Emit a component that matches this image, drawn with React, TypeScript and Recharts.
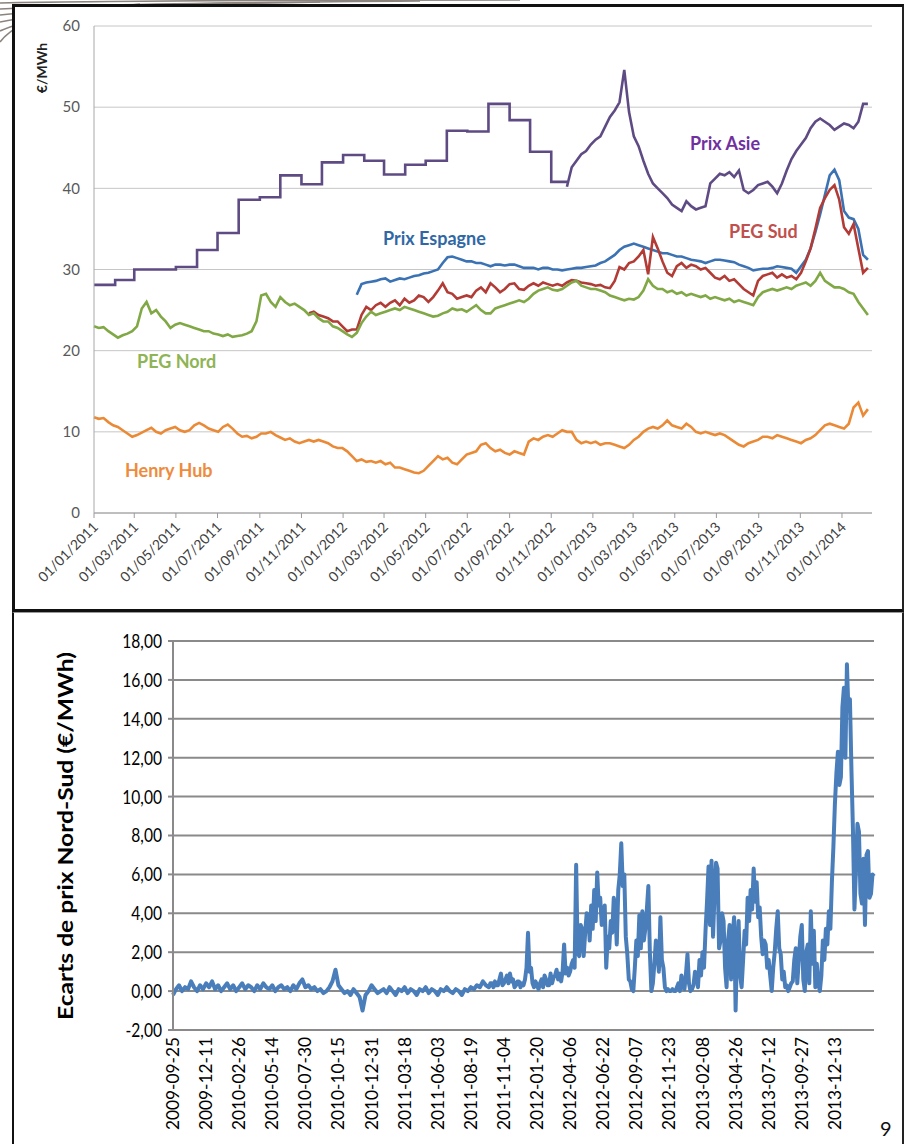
import React from 'react';
import { LineChart, Line, XAxis, YAxis, CartesianGrid } from 'recharts';

const DAY = 86400000;
const FONT = 'Lato, "Open Sans", sans-serif';

// ---------- top chart: gas prices in €/MWh, weekly readings from 01/01/2011
const topTicks = [
  '01/01/2011', '01/03/2011', '01/05/2011', '01/07/2011', '01/09/2011', '01/11/2011',
  '01/01/2012', '01/03/2012', '01/05/2012', '01/07/2012', '01/09/2012', '01/11/2012',
  '01/01/2013', '01/03/2013', '01/05/2013', '01/07/2013', '01/09/2013', '01/11/2013',
  '01/01/2014',
];
const yTicksTop = [0, 10, 20, 30, 40, 50, 60];

// Asian price was quoted monthly until late 2012 (step line)
const asieMonths = [
  '01/01/2011', '01/02/2011', '01/03/2011', '01/04/2011', '01/05/2011', '01/06/2011',
  '01/07/2011', '01/08/2011', '01/09/2011', '01/10/2011', '01/11/2011', '01/12/2011',
  '01/01/2012', '01/02/2012', '01/03/2012', '01/04/2012', '01/05/2012', '01/06/2012',
  '01/07/2012', '01/08/2012', '01/09/2012', '01/10/2012', '01/11/2012', '25/11/2012',
];
const asieStep = [
  28.1, 28.7, 30.0, 30.0, 30.3, 32.4, 34.5, 38.6, 38.9, 41.6, 40.5, 43.2,
  44.1, 43.4, 41.7, 42.9, 43.4, 47.1, 47.0, 50.4, 48.4, 44.5, 40.8, 40.8,
];

const pegNord = [
  23.0, 22.8, 22.9, 22.4, 22.0, 21.6, 21.9, 22.1, 22.4, 23.0,
  25.2, 26.0, 24.6, 25.0, 24.2, 23.6, 22.8, 23.2, 23.4, 23.2,
  23.0, 22.8, 22.6, 22.4, 22.4, 22.1, 22.0, 21.8, 22.0, 21.7,
  21.8, 21.9, 22.1, 22.4, 23.6, 26.8, 27.0, 26.0, 25.4, 26.6,
  26.0, 25.6, 25.8, 25.4, 25.0, 24.4, 24.6, 24.0, 23.6, 23.6,
  23.0, 22.8, 22.4, 22.0, 21.7, 22.2, 23.4, 24.2, 24.8, 24.4,
  24.6, 24.8, 25.0, 25.2, 25.0, 25.4, 25.2, 25.0, 24.8, 24.6,
  24.4, 24.2, 24.3, 24.6, 24.8, 25.2, 25.0, 25.1, 24.8, 25.2,
  25.6, 25.0, 24.6, 24.6, 25.2, 25.4, 25.6, 25.8, 26.0, 26.2,
  26.0, 26.4, 27.0, 27.4, 27.6, 27.8, 27.5, 27.4, 27.6, 28.0,
  28.4, 28.6, 28.0, 27.8, 27.6, 27.6, 27.4, 27.2, 26.8, 26.6,
  26.4, 26.2, 26.4, 26.3, 26.6, 27.4, 28.8, 28.0, 27.6, 27.6,
  27.2, 27.4, 27.0, 27.2, 26.8, 27.0, 26.8, 26.6, 26.8, 26.4,
  26.6, 26.4, 26.2, 26.4, 26.0, 26.2, 26.0, 25.8, 25.6, 26.6,
  27.2, 27.4, 27.6, 27.4, 27.6, 27.8, 27.6, 28.0, 28.2, 28.4,
  28.0, 28.6, 29.6, 28.6, 28.2, 27.8, 27.8, 27.6, 27.2, 27.0,
  26.0, 25.2, 24.4,
];

const henryHub = [
  11.8, 11.6, 11.7, 11.2, 10.8, 10.6, 10.2, 9.8, 9.4, 9.6,
  9.9, 10.2, 10.5, 10.0, 9.8, 10.2, 10.4, 10.6, 10.2, 10.0,
  10.2, 10.8, 11.1, 10.8, 10.4, 10.2, 10.0, 10.6, 10.9, 10.4,
  9.8, 9.4, 9.5, 9.2, 9.4, 9.8, 9.8, 10.0, 9.6, 9.3,
  9.0, 9.2, 8.8, 8.6, 8.8, 9.0, 8.8, 9.0, 8.8, 8.6,
  8.2, 8.0, 8.0, 7.6, 7.0, 6.4, 6.6, 6.3, 6.4, 6.2,
  6.4, 6.0, 6.2, 5.6, 5.6, 5.4, 5.2, 5.0, 4.9, 5.2,
  5.8, 6.4, 7.0, 6.6, 6.8, 6.2, 6.0, 6.6, 7.2, 7.4,
  7.6, 8.4, 8.6, 8.0, 7.6, 7.8, 7.4, 7.2, 7.6, 7.4,
  7.2, 8.8, 9.2, 9.0, 9.4, 9.6, 9.4, 9.8, 10.2, 10.0,
  10.0, 9.0, 8.6, 8.8, 8.6, 8.8, 8.4, 8.6, 8.6, 8.4,
  8.2, 8.0, 8.4, 9.0, 9.4, 10.0, 10.4, 10.6, 10.4, 10.8,
  11.4, 10.8, 10.6, 10.4, 11.0, 10.6, 10.0, 9.8, 10.0, 9.8,
  9.6, 9.8, 9.6, 9.2, 8.8, 8.4, 8.2, 8.6, 8.8, 9.0,
  9.4, 9.4, 9.2, 9.6, 9.4, 9.2, 9.0, 8.8, 8.6, 9.0,
  9.2, 9.6, 10.2, 10.8, 11.0, 10.8, 10.6, 10.4, 11.0, 13.0,
  13.6, 12.0, 12.8,
];

// starts at week 45
const pegSud = [
  24.6, 24.8, 24.4, 24.2, 24.0,
  23.6, 23.6, 23.0, 22.4, 22.6, 22.6, 24.4, 25.4, 25.0, 25.6,
  25.9, 25.4, 25.9, 26.2, 25.6, 26.4, 25.9, 26.2, 26.8, 26.6,
  26.0, 26.6, 27.4, 28.3, 27.2, 27.0, 26.4, 26.6, 26.8, 26.6,
  27.4, 27.8, 27.2, 28.3, 27.8, 27.2, 27.6, 28.2, 28.3, 27.6,
  27.5, 28.0, 28.3, 28.0, 28.4, 28.2, 28.0, 28.2, 28.0, 28.4,
  28.7, 28.6, 28.4, 28.3, 28.2, 28.0, 28.1, 27.8, 27.7, 28.6,
  30.3, 30.0, 30.8, 31.0, 31.6, 32.4, 29.4, 34.0, 32.6, 31.0,
  29.6, 29.2, 30.4, 30.8, 30.2, 30.6, 30.4, 30.0, 30.2, 29.6,
  29.0, 28.8, 29.2, 28.6, 28.8, 28.2, 27.6, 27.2, 26.8, 28.6,
  29.2, 29.4, 29.6, 29.0, 29.4, 29.0, 29.2, 28.8, 29.6, 31.0,
  32.6, 35.0, 37.6, 38.8, 39.8, 40.4, 38.6, 35.2, 34.4, 35.6,
  32.6, 29.6, 30.2,
];

// starts at week 55
const prixEspagne = [
  26.9, 28.2, 28.4, 28.5, 28.6,
  28.8, 28.9, 28.5, 28.7, 28.9, 28.8, 29.0, 29.2, 29.3, 29.5,
  29.6, 29.8, 30.0, 30.8, 31.5, 31.6, 31.4, 31.2, 31.0, 31.0,
  30.8, 30.8, 30.6, 30.4, 30.6, 30.6, 30.5, 30.6, 30.6, 30.4,
  30.2, 30.2, 30.2, 30.0, 30.2, 30.2, 30.0, 30.0, 29.9, 30.0,
  30.1, 30.2, 30.2, 30.3, 30.4, 30.5, 30.8, 31.0, 31.4, 31.8,
  32.4, 32.8, 33.0, 33.2, 33.0, 32.8, 32.6, 32.4, 32.2, 32.0,
  32.0, 31.8, 31.6, 31.6, 31.4, 31.2, 31.1, 31.0, 30.8, 31.0,
  31.2, 31.2, 31.1, 31.0, 30.9, 30.6, 30.4, 30.2, 29.9, 30.0,
  30.1, 30.1, 30.2, 30.4, 30.3, 30.2, 30.1, 29.6, 30.4, 31.2,
  32.6, 34.6, 36.8, 39.2, 41.6, 42.3, 41.0, 37.2, 36.4, 36.2,
  35.0, 31.8, 31.2,
];

// spot Asian price, starts at week 99
const prixAsie = [
  40.2,
  42.6, 43.4, 44.2, 44.6, 45.4, 46.0, 46.4, 47.6, 48.8, 49.6,
  50.6, 54.6, 49.4, 46.4, 45.2, 43.4, 41.8, 40.6, 40.0, 39.4,
  38.8, 38.0, 37.6, 37.2, 38.4, 37.8, 37.4, 37.6, 37.8, 40.6,
  41.2, 41.8, 41.6, 42.0, 41.4, 42.2, 39.8, 39.4, 39.8, 40.4,
  40.6, 40.8, 40.2, 39.4, 40.6, 42.2, 43.6, 44.6, 45.4, 46.2,
  47.4, 48.2, 48.6, 48.2, 47.8, 47.2, 47.6, 48.0, 47.8, 47.4,
  48.2, 50.4, 50.4,
];

// ---------- bottom chart: North-South spread (€/MWh) from 2009-09-25
const spreadTicks = [
  '2009-09-25', '2009-12-11', '2010-02-26', '2010-05-14', '2010-07-30', '2010-10-15',
  '2010-12-31', '2011-03-18', '2011-06-03', '2011-08-19', '2011-11-04', '2012-01-20',
  '2012-04-06', '2012-06-22', '2012-09-07', '2012-11-23', '2013-02-08', '2013-04-26',
  '2013-07-12', '2013-09-27', '2013-12-13',
];
const yTicksSpread = [-2, 0, 2, 4, 6, 8, 10, 12, 14, 16, 18];

// weekly readings, weeks 0..104
const spreadWeekly = [
  -0.2, 0.1, 0.3, 0.0, 0.2, 0.1, 0.5, 0.2, 0.0, 0.3,
  0.1, 0.4, 0.2, 0.5, 0.1, 0.3, 0.0, 0.2, 0.4, 0.1,
  0.3, 0.0, 0.2, 0.4, 0.1, 0.3, 0.2, 0.0, 0.3, 0.1,
  0.4, 0.2, 0.1, 0.3, 0.0, 0.2, 0.3, 0.1, 0.2, 0.0,
  0.3, 0.1, 0.4, 0.6, 0.2, 0.3, 0.1, 0.2, 0.0, 0.1,
  -0.1, 0.0, 0.2, 0.5, 1.1, 0.3, 0.1, -0.1, 0.0, -0.2,
  0.1, -0.1, -0.3, -1.0, -0.2, 0.0, 0.3, 0.1, -0.1, 0.0,
  0.1, -0.1, 0.2, 0.0, -0.2, 0.1, 0.0, 0.2, -0.1, 0.1,
  0.0, -0.2, 0.1, 0.0, 0.2, -0.1, 0.1, 0.0, -0.2, 0.1,
  0.0, 0.2, 0.0, -0.1, 0.1, 0.0, -0.2, 0.1, 0.0, 0.2,
  0.1, 0.3, 0.2, 0.5, 0.3,
];
// twice-weekly readings from week 105 (volatile period) to week 233
const spreadHalfWeekly = [
  0.2, 0.4, 0.4, 0.2, 0.5, 0.3, 0.3, 0.6, 0.9, 0.3,
  0.4, 0.6, 0.8, 0.4, 0.9, 0.5, 0.6, 0.2, 0.3, 0.5,
  0.5, 0.2, 0.4, 0.3, 0.6, 1.2, 3.0, 1.0, 1.2, 0.4,
  0.2, 0.5, 0.3, 0.1, 0.4, 0.6, 0.2, 0.8, 0.6, 0.3,
  0.3, 0.9, 0.4, 0.7, 0.8, 1.1, 0.6, 0.9, 0.5, 1.0,
  2.4, 0.9, 1.2, 0.8, 1.0, 1.4, 1.6, 1.2, 6.5, 2.0,
  1.8, 3.4, 3.2, 1.8, 3.0, 4.0, 3.9, 2.6, 4.4, 3.2,
  5.2, 3.6, 6.1, 4.4, 4.8, 3.4, 3.8, 4.4, 1.2, 2.8,
  2.2, 3.6, 3.0, 4.8, 4.3, 2.4, 5.2, 6.0, 7.6, 5.4,
  6.0, 2.8, 1.9, 0.6, 0.5, 0.1, 0.0, 1.2, 2.6, 1.8,
  3.9, 2.2, 4.1, 2.6, 3.2, 4.2, 5.4, 2.0, 0.0, 0.4,
  1.4, 2.6, 2.0, 1.0, 3.8, 1.6, 1.2, 0.2, 0.0, 0.1,
  0.0, 0.0, 0.1, 0.0, 0.0, 0.2, 0.4, 0.0, 0.8, 0.2,
  0.1, 0.9, 1.9, 0.4, 0.0, 0.1, 0.3, 1.0, 0.9, 0.2,
  1.6, 0.8, 2.0, 1.2, 3.1, 4.6, 6.4, 3.4, 6.7, 2.8,
  5.0, 6.6, 6.3, 2.2, 2.6, 4.0, 3.6, 1.2, 0.2, 2.6,
  3.4, 0.6, 2.8, 3.8, -1.0, 2.2, 3.6, 0.8, 0.2, 1.6,
  3.1, 2.4, 4.8, 3.6, 5.2, 4.2, 6.3, 4.6, 5.6, 3.8,
  4.3, 2.8, 1.9, 2.6, 2.4, 1.2, 1.6, 0.8, 0.0, 1.2,
  2.0, 3.2, 4.1, 2.2, 1.9, 0.6, 1.0, 0.2, 0.3, 0.0,
  0.2, 0.4, 0.5, 1.6, 2.2, 0.4, 1.6, 2.8, 3.4, 0.6,
  0.0, 2.0, 2.4, 0.4, 4.1, 1.4, 3.1, 0.2, 1.4, 0.4,
  0.0, 0.8, 2.6, 1.6, 3.2, 2.4, 4.1, 3.2, 5.6, 7.4,
  9.6, 11.2, 12.3, 10.6, 11.0, 14.6, 15.6, 12.0, 16.8, 14.4,
  15.0, 11.4, 8.3, 4.2, 6.2, 8.6, 8.2, 5.0, 4.5, 6.8,
  3.4, 7.0, 7.2, 4.8, 5.0, 6.0, 5.9,
];

// ---------- build rows
const T0 = Date.UTC(2011, 0, 1);
const dayOf = (s: string) => {
  const [d, m, y] = s.split('/').map(Number);
  return (Date.UTC(y, m - 1, d) - T0) / DAY;
};
const weekly = (vals: number[], first: number) => vals.map((v, i) => ({ d: (first + i) * 7, v }));

const nordData = weekly(pegNord, 0);
const henryData = weekly(henryHub, 0);
const sudData = weekly(pegSud, 45);
const espData = weekly(prixEspagne, 55);
const asieData = weekly(prixAsie, 99);
const asieStepData = asieMonths.map((s, i) => ({ d: dayOf(s), v: asieStep[i] }));
const topTickDays = topTicks.map(dayOf);

// spread rows, x = weeks since 2009-09-25
const S0 = Date.UTC(2009, 8, 25);
const spreadTickWeeks = spreadTicks.map((s) => (Date.parse(s) - S0) / (7 * DAY));
const spreadData = [
  ...spreadWeekly.map((v, i) => ({ t: i, v })),
  ...spreadHalfWeekly.map((v, j) => ({ t: spreadWeekly.length + j / 2, v })),
];

// ---------- ticks
const DateTick = (p: any) => {
  const idx = topTickDays.indexOf(p.payload.value);
  return (
    <text
      x={0}
      y={0}
      transform={`translate(${p.x + 5},${p.y + 8}) rotate(-45)`}
      textAnchor="end"
      fontFamily={FONT}
      fontSize={14}
      fill="#404040"
    >
      {topTicks[idx]}
    </text>
  );
};

const SpreadXTick = (p: any) => {
  const idx = spreadTickWeeks.indexOf(p.payload.value);
  return (
    <text
      x={0}
      y={0}
      transform={`translate(${p.x + 6},${p.y - 1}) rotate(-90)`}
      textAnchor="end"
      fontFamily={FONT}
      fontSize={17}
      fill="#000"
      textLength={93}
      lengthAdjust="spacingAndGlyphs"
    >
      {spreadTicks[idx]}
    </text>
  );
};

const SpreadYTick = (p: any) => (
  <text
    x={p.x}
    y={p.y}
    dy={7}
    textAnchor="end"
    fontFamily={FONT}
    fontSize={20}
    fill="#000"
    transform={`translate(${p.x} 0) scale(0.78 1) translate(${-p.x} 0)`}
  >
    {p.payload.value.toFixed(2).replace('.', ',')}
  </text>
);

const seriesLabel = (x: number, y: number, text: string, color: string) => (
  <text x={x} y={y} fill={color} fontFamily={FONT} fontWeight={700} fontSize={18}>
    {text}
  </text>
);

export default function App() {
  return (
    <div
      style={{
        position: 'absolute',
        left: 0,
        top: 0,
        width: 904,
        height: 1144,
        overflow: 'hidden',
        background: '#fff',
        fontFamily: FONT,
      }}
    >
      {/* slide decoration, top-left */}
      <svg style={{ position: 'absolute', left: 0, top: 0 }} width={904} height={80}>
        <g fill="none" stroke="#776e68" strokeWidth={1.6} opacity={0.85}>
          <path d="M0,3 Q150,0 520,0" />
          <path d="M0,9 Q120,3 420,1" />
          <path d="M0,15 Q90,6 320,2" />
          <path d="M0,22 Q60,10 230,3" />
          <path d="M0,31 Q35,15 140,4" />
          <path d="M0,42 Q15,22 70,5" />
        </g>
      </svg>

      {/* panel frames */}
      <div
        style={{
          position: 'absolute',
          left: 12,
          top: 4,
          width: 892,
          height: 608,
          boxSizing: 'border-box',
          borderLeft: '3px solid #111',
          borderTop: '3px solid #111',
          borderRight: '2px solid #222',
          borderBottom: '3px solid #111',
          background: '#fff',
        }}
      />
      <div
        style={{
          position: 'absolute',
          left: 12,
          top: 612,
          width: 892,
          height: 540,
          boxSizing: 'border-box',
          borderLeft: '2px solid #111',
          borderRight: '2px solid #222',
          borderTop: '1px solid #9a9a9a',
          background: '#fff',
        }}
      />

      {/* top chart */}
      <div style={{ position: 'absolute', left: 0, top: 0 }}>
        <LineChart width={904} height={612} margin={{ top: 26, right: 32, bottom: 19, left: 44 }}>
          <CartesianGrid vertical={false} stroke="#c6c6c6" />
          <XAxis
            dataKey="d"
            type="number"
            domain={[0, 1140]}
            ticks={topTickDays}
            interval={0}
            height={80}
            tick={<DateTick />}
            tickSize={5}
            stroke="#9a9a9a"
          />
          <YAxis
            type="number"
            domain={[0, 60]}
            ticks={yTicksTop}
            width={50}
            tickLine={false}
            tickMargin={8}
            stroke="#a8a8a8"
            tick={{ fill: '#595959', fontSize: 15, fontFamily: FONT }}
          />
          <Line data={asieStepData} dataKey="v" type="stepAfter" stroke="#5e4b84" strokeWidth={2.6} dot={false} isAnimationActive={false} />
          <Line data={asieData} dataKey="v" type="linear" stroke="#5e4b84" strokeWidth={2.6} dot={false} isAnimationActive={false} />
          <Line data={espData} dataKey="v" type="linear" stroke="#3a72b4" strokeWidth={2.6} dot={false} isAnimationActive={false} />
          <Line data={sudData} dataKey="v" type="linear" stroke="#b23b36" strokeWidth={2.6} dot={false} isAnimationActive={false} />
          <Line data={nordData} dataKey="v" type="linear" stroke="#80a845" strokeWidth={2.6} dot={false} isAnimationActive={false} />
          <Line data={henryData} dataKey="v" type="linear" stroke="#eb8a36" strokeWidth={2.6} dot={false} isAnimationActive={false} />
        </LineChart>
      </div>

      {/* bottom chart */}
      <div style={{ position: 'absolute', left: 0, top: 612 }}>
        <LineChart width={904} height={532} data={spreadData} margin={{ top: 29, right: 30, bottom: 14, left: 0 }}>
          <CartesianGrid vertical={false} stroke="#8a8a8a" strokeWidth={2} />
          <XAxis
            dataKey="t"
            type="number"
            domain={[0, 233]}
            ticks={spreadTickWeeks}
            interval={0}
            height={100}
            tickLine={false}
            stroke="#8a8a8a"
            strokeWidth={2}
            tick={<SpreadXTick />}
          />
          <YAxis
            type="number"
            domain={[-2, 18]}
            ticks={yTicksSpread}
            width={173}
            tickSize={5}
            tickMargin={6}
            stroke="#8a8a8a"
            strokeWidth={2}
            tick={<SpreadYTick />}
          />
          <Line dataKey="v" type="linear" stroke="#4a7ebb" strokeWidth={4} strokeLinejoin="round" dot={false} isAnimationActive={false} />
        </LineChart>
      </div>

      {/* annotations */}
      <svg style={{ position: 'absolute', left: 0, top: 0, pointerEvents: 'none' }} width={904} height={1144}>
        <text transform="translate(47,68) rotate(-90)" textAnchor="middle" fontFamily={FONT} fontWeight={700} fontSize={14} fill="#222">
          €/MWh
        </text>
        {seriesLabel(690, 150, 'Prix Asie', '#7030a0')}
        {seriesLabel(383, 245, 'Prix Espagne', '#2f68a5')}
        {seriesLabel(729, 238, 'PEG Sud', '#c0504d')}
        {seriesLabel(137, 368, 'PEG Nord', '#8fb455')}
        {seriesLabel(125, 477, 'Henry Hub', '#ee8b3d')}
        <text
          transform="translate(73,836) rotate(-90)"
          textAnchor="middle"
          fontFamily={FONT}
          fontWeight={700}
          fontSize={21}
          fill="#000"
          textLength={368}
          lengthAdjust="spacingAndGlyphs"
        >
          Ecarts de prix Nord-Sud (€/MWh)
        </text>
        <text x={880} y={1136} fontFamily={FONT} fontSize={20} fill="#111">
          9
        </text>
      </svg>
    </div>
  );
}
